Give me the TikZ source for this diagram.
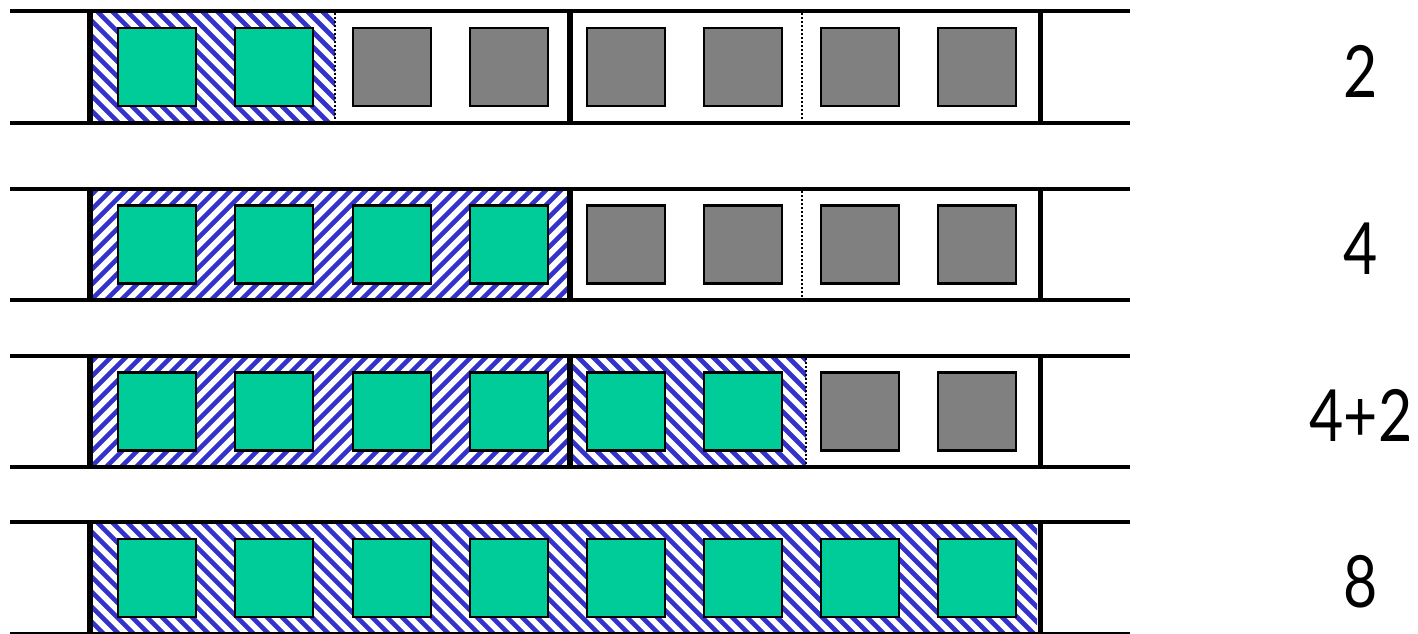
\documentclass[tikz,border=0pt]{standalone}
\usepackage{fontspec}
\newfontfamily\labfont[FakeStretch=0.82]{Lato}
\definecolor{cellgreen}{RGB}{0,204,153}
\definecolor{cellgrey}{RGB}{128,128,128}
\definecolor{hatchblue}{RGB}{51,51,204}
% #1 x0, #2 x1, #3 top, #4 bottom, #5 direction (1 = down-right, -1 = down-left)
\newcommand{\myhatch}[5]{%
  \begin{scope}
    \clip (#1,#3) rectangle (#2,#4);
    \foreach \i in {0,...,85}{
      \draw[hatchline] ({#1-130+15*\i},{#3}) -- ++({#5*120},120);
    }
  \end{scope}}
\begin{document}
\begin{tikzpicture}[x=1pt,y=-1pt,
  hatchline/.style={draw=hatchblue,line width=4.6pt},
  rail/.style={line width=4pt,black},
  wall/.style={line width=5.5pt,black},
  sep/.style={line width=2pt,black,dash pattern=on 2pt off 2pt},
  cell/.style={draw=black,line width=2.5pt,minimum size=78pt,inner sep=0pt,outer sep=0pt},
  used/.style={cell,fill=cellgreen},
  free/.style={cell,fill=cellgrey},
  lab/.style={font=\labfont\fontsize{72}{72}\selectfont,inner sep=0pt,anchor=center}]
\useasboundingbox (0,0) rectangle (1418,633);

% hatched regions
\myhatch{92}{335}{11}{123}{1}
\myhatch{92}{568}{189}{300}{-1}
\myhatch{92}{568}{356}{467}{-1}
\myhatch{572}{806}{356}{467}{1}
\myhatch{92}{1037}{522}{634}{1}

% rails (horizontal lines)
\foreach \t/\b in {11/123,189/300,356/467,522/634}{
  \draw[rail] (10,\t) -- (1130,\t);
  \draw[rail] (10,\b) -- (1130,\b);
}

% walls
\foreach \t/\b in {11/123,189/300,356/467}{
  \draw[wall] (90,\t) -- (90,\b);
  \draw[wall] (570,\t) -- (570,\b);
  \draw[wall] (1040.5,\t) -- (1040.5,\b);
}
\draw[wall] (90,522) -- (90,634);
\draw[wall] (1040.5,522) -- (1040.5,634);

% dotted separators
\draw[sep] (335,13) -- (335,121);
\draw[sep] (802,13) -- (802,121);
\draw[sep] (802,191) -- (802,298);
\draw[sep] (806,358) -- (806,465);

% row 1
\node[used] (a1) at (157,67) {};
\node[used] (a2) at (274,67) {};
\node[free] (a3) at (392,67) {};
\node[free] (a4) at (509,67) {};
\node[free] (a5) at (626,67) {};
\node[free] (a6) at (743,67) {};
\node[free] (a7) at (860,67) {};
\node[free] (a8) at (977,67) {};
% row 2
\node[used] (b1) at (157,244.5) {};
\node[used] (b2) at (274,244.5) {};
\node[used] (b3) at (392,244.5) {};
\node[used] (b4) at (509,244.5) {};
\node[free] (b5) at (626,244.5) {};
\node[free] (b6) at (743,244.5) {};
\node[free] (b7) at (860,244.5) {};
\node[free] (b8) at (977,244.5) {};
% row 3
\node[used] (c1) at (157,411.5) {};
\node[used] (c2) at (274,411.5) {};
\node[used] (c3) at (392,411.5) {};
\node[used] (c4) at (509,411.5) {};
\node[used] (c5) at (626,411.5) {};
\node[used] (c6) at (743,411.5) {};
\node[free] (c7) at (860,411.5) {};
\node[free] (c8) at (977,411.5) {};
% row 4
\node[used] (d1) at (157,578) {};
\node[used] (d2) at (274,578) {};
\node[used] (d3) at (392,578) {};
\node[used] (d4) at (509,578) {};
\node[used] (d5) at (626,578) {};
\node[used] (d6) at (743,578) {};
\node[used] (d7) at (860,578) {};
\node[used] (d8) at (977,578) {};

% labels
\node[lab] (l1) at (1361,71) {2};
\node[lab] (l2) at (1361,249) {4};
\node[lab] (l3) at (1361,415) {4+2};
\node[lab] (l4) at (1361,582) {8};
\end{tikzpicture}
\end{document}
